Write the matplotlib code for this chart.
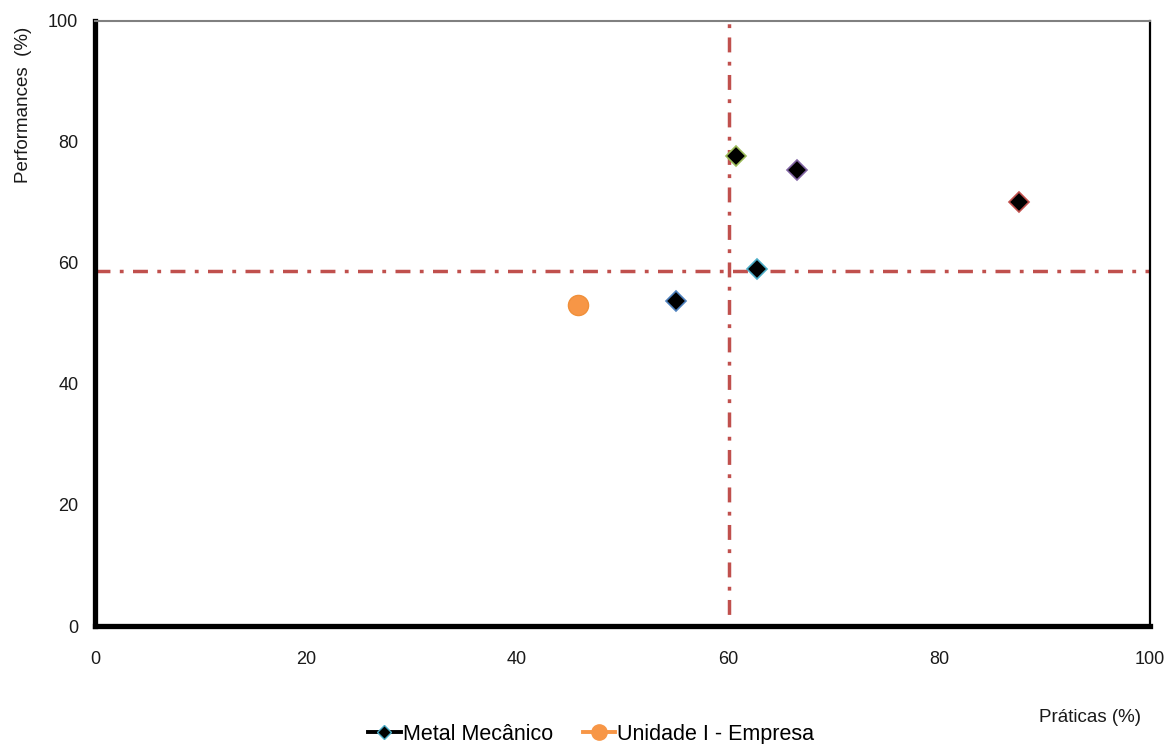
import matplotlib
matplotlib.use("Agg")
import matplotlib.pyplot as plt
from matplotlib.lines import Line2D

plt.rcParams['font.family'] = ['Liberation Sans', 'DejaVu Sans']

# Data
metal_x = [55.1, 87.6, 60.8, 66.5, 62.8]
metal_y = [53.7, 70.1, 77.7, 75.4, 59.0]
metal_edges = ['#4F81BD', '#C0504D', '#9BBB59', '#8064A2', '#4BACC6']
empresa_x = [45.8]
empresa_y = [53.1]
ref_x = 60.1
ref_y = 58.7
ticks = [0, 20, 40, 60, 80, 100]
series_names = ['Metal Mecânico', 'Unidade I - Empresa']

fig = plt.figure(figsize=(11.71, 7.44), dpi=100)
ax = fig.add_axes([0.0811, 0.1586, 0.9009, 0.8132])

ax.set_xlim(0, 100)
ax.set_ylim(0, 100)
ax.set_xticks(ticks)
ax.set_yticks(ticks)
ax.tick_params(length=0, labelsize=13, colors='#1a1a1a')
ax.tick_params(axis='x', pad=18)
ax.tick_params(axis='y', pad=12)

for s in ['left', 'bottom']:
    ax.spines[s].set_linewidth(3.8)
    ax.spines[s].set_color('black')
ax.spines['right'].set_linewidth(1.6)
ax.spines['right'].set_color('black')
ax.spines['top'].set_linewidth(1.5)
ax.spines['top'].set_color('#808080')

pattern = (4.3, 2.7, 1.1, 2.7)
ax.plot([0, 100], [ref_y, ref_y], color='#C0504D', lw=2.5,
        ls=(0, pattern), zorder=2, clip_on=False)
ax.plot([ref_x, ref_x], [100, 0], color='#C0504D', lw=2.5,
        ls=(6.2, pattern), zorder=2, clip_on=False)

for x, y, ec in zip(metal_x, metal_y, metal_edges):
    ax.plot([x], [y], ls='none', marker='D', markersize=10.5, mfc='black',
            mec=ec, mew=1.2, zorder=3)
ax.plot(empresa_x, empresa_y, ls='none', marker='o', markersize=14.5,
        mfc='#F79646', mec='#F0903A', mew=1.0, zorder=3)

ax.set_ylabel('Performances  (%)', fontsize=13.5, color='#1a1a1a')
ax.yaxis.set_label_coords(-0.06, 0.861)
fig.text(0.931, 0.036, 'Práticas (%)', fontsize=13.5, ha='center', va='center',
         color='#1a1a1a')

handles = [
    Line2D([], [], color='black', lw=2.8, marker='D', markersize=7.5,
           mfc='black', mec='#4BACC6', mew=1.0),
    Line2D([], [], color='#F79646', lw=2.8, marker='o', markersize=11,
           mfc='#F79646', mec='#F79646'),
]
fig.legend(handles, series_names, loc='center', bbox_to_anchor=(0.505, 0.013),
           ncol=2, frameon=False, fontsize=15.5, handlelength=1.5,
           handletextpad=0.1, columnspacing=1.4, borderaxespad=0)

fig.savefig('out.png', dpi=100)
